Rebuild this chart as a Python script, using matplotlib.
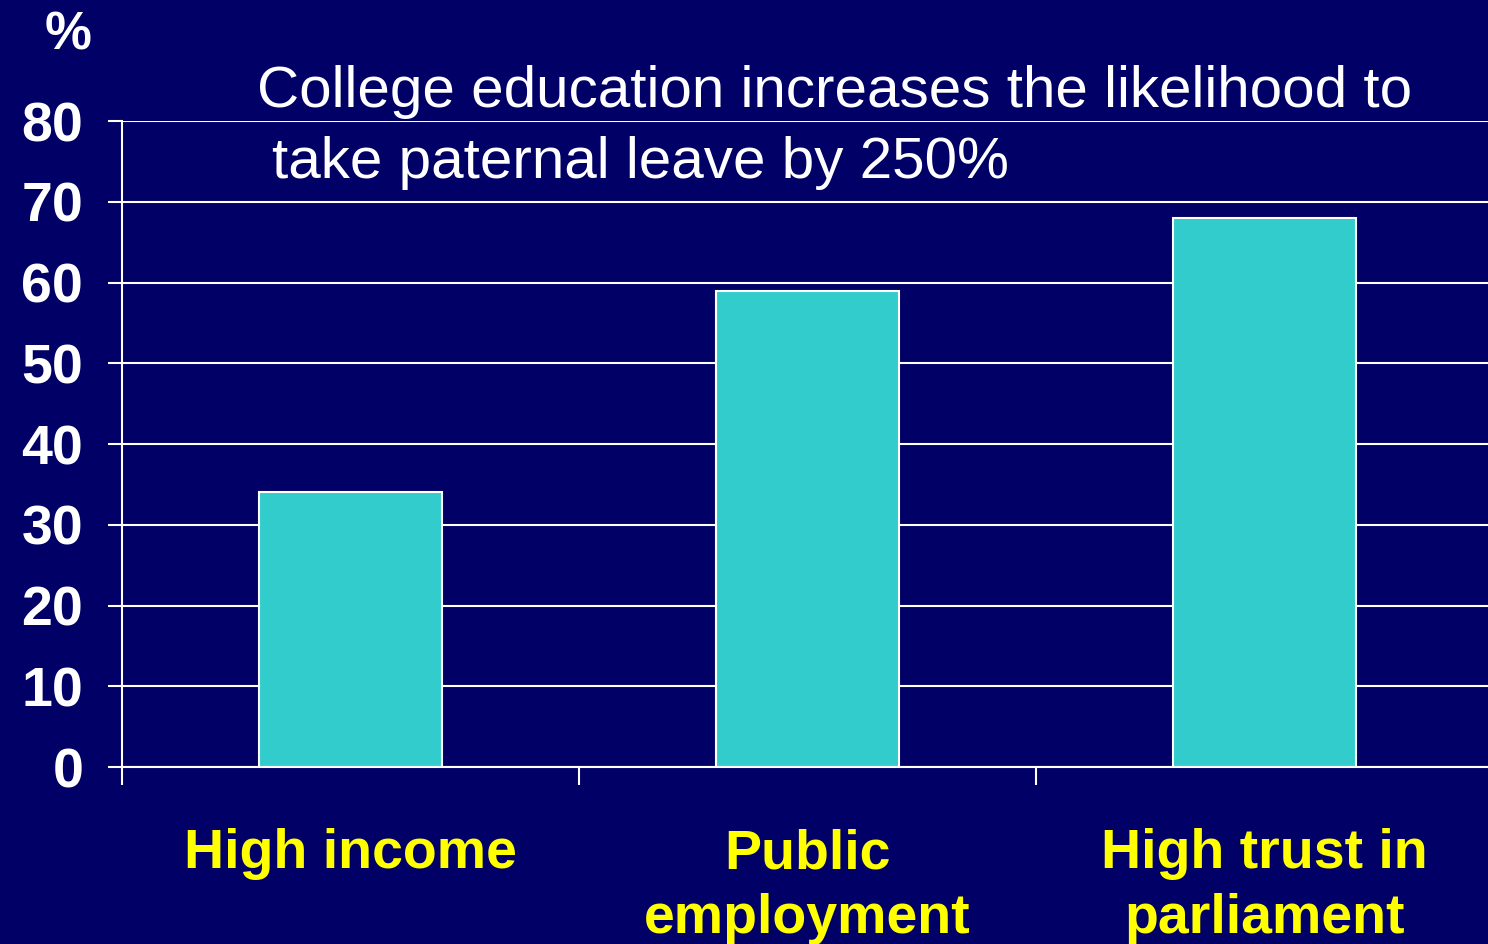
import matplotlib.pyplot as plt

categories = ['High income', 'Public\nemployment', 'High trust in\nparliament']
values = [34, 59, 68]
y_ticks = [0, 10, 20, 30, 40, 50, 60, 70, 80]

bg = '#000066'
bar_color = '#33CCCC'

plt.rcParams['font.family'] = ['Liberation Sans', 'DejaVu Sans']

fig = plt.figure(figsize=(14.88, 9.44), dpi=100, facecolor=bg)
ax = fig.add_axes([0.0820, 0.1875, 0.9180, 0.6843], facecolor=bg)

x = list(range(len(categories)))
ax.bar(x, values, width=0.4, color=bar_color, edgecolor='white', linewidth=1.5, zorder=2)

ax.set_xlim(-0.5, 2.489)
ax.set_ylim(0, 80)
ax.set_yticks(y_ticks)
ax.set_yticklabels([str(v) for v in y_ticks], fontsize=40, fontweight='bold', color='white')
ax.yaxis.grid(True, color='white', linewidth=1.5, zorder=1)
ax.set_axisbelow(True)

# boundaries get tick marks, centers carry the category names
ax.set_xticks([-0.5, 0.5, 1.5])
ax.set_xticklabels([])
ax.set_xticks(x, minor=True)
ax.set_xticklabels(categories, minor=True, fontsize=40, fontweight='bold',
                   color='#FFFF00', va='top', linespacing=1.33)
ax.tick_params(axis='x', which='major', length=13, width=1.5, color='white', direction='out')
ax.tick_params(axis='x', which='minor', length=0, pad=44)
ax.tick_params(axis='y', length=10, width=1.5, color='white', pad=18)

for side in ['top', 'right']:
    ax.spines[side].set_visible(False)
ax.spines['left'].set_color('white')
ax.spines['left'].set_linewidth(1.5)
ax.spines['bottom'].set_color('white')
ax.spines['bottom'].set_linewidth(1.5)

fig.text(45 / 1488, 1 - 50 / 944, '%', fontsize=38, fontweight='bold', color='white',
         ha='left', va='baseline')
fig.text(257 / 1488, 1 - 107 / 944, 'College education increases the likelihood to',
         fontsize=42, color='white', ha='left', va='baseline')
fig.text(272 / 1488, 1 - 178 / 944, 'take paternal leave by 250%',
         fontsize=42, color='white', ha='left', va='baseline')

fig.savefig('out.png', dpi=100, facecolor=bg)
